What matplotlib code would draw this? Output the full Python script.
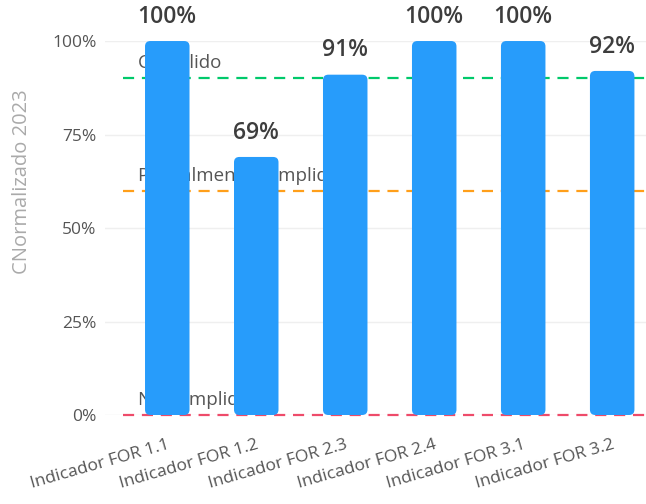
import matplotlib.pyplot as plt
from matplotlib.patches import FancyBboxPatch
from matplotlib.ticker import FuncFormatter

plt.rcParams['font.family'] = ['Open Sans', 'DejaVu Sans']

# data
indicadores = ['Indicador FOR 1.1', 'Indicador FOR 1.2', 'Indicador FOR 2.3',
               'Indicador FOR 2.4', 'Indicador FOR 3.1', 'Indicador FOR 3.2']
valores = [100, 69, 91, 100, 100, 92]
umbrales = [90, 60, 0]
umbral_nombres = ['Cumplido', 'Parcialmente cumplido', 'No cumplido']
umbral_colores = ['#00C96B', '#FF9F1A', '#EE4B6A']

fig = plt.figure(figsize=(6.46, 5.04), dpi=100)
ax = fig.add_axes([0.1625, 0.1766, 0.8375, 0.742])

x = list(range(len(indicadores)))
bars = ax.bar(x, valores, width=0.5, color='#279CFB', zorder=3)

# swap plain rectangles for rounded ones
aspect = (1 / 3.74) / (1 / 89)
for r in bars:
    rounded = FancyBboxPatch((r.get_x(), r.get_y()), r.get_width(), r.get_height(),
                             boxstyle='round,pad=0,rounding_size=0.06',
                             mutation_aspect=aspect, fc='#279CFB', ec='none', zorder=3)
    ax.add_patch(rounded)
    r.set_visible(False)

for xi, v in zip(x, valores):
    ax.text(xi, v + 3.3, f'{v}%', ha='center', va='bottom', fontsize=16.5,
            fontweight='semibold', color='#3d3d3d', clip_on=False, zorder=4)

# threshold lines with their names (text sits behind the bars)
for y, name, col in zip(umbrales, umbral_nombres, umbral_colores):
    ax.plot([-0.5, 5.5], [y, y], color=col, lw=1.6, ls=(0, (5, 3.5)), zorder=2,
            clip_on=False)
    ax.text(-0.33, y + 1.6, name, ha='left', va='bottom', fontsize=13.5,
            color='#555555', zorder=1)

ax.set_xlim(-0.7, 5.38)
ax.set_ylim(0, 100)
ax.set_yticks([0, 25, 50, 75, 100])
ax.yaxis.set_major_formatter(FuncFormatter(lambda v, p: f'{int(v)}%'))
ax.grid(axis='y', color='#efefef', lw=1, zorder=0)
ax.set_xticks(x)
ax.set_xticklabels(indicadores, rotation=16, ha='right', rotation_mode='anchor')
ax.tick_params(axis='both', length=0, labelsize=12.5, labelcolor='#555555')
ax.tick_params(axis='y', pad=6)
ax.tick_params(axis='x', pad=16)
for s in ax.spines.values():
    s.set_visible(False)

ax.set_ylabel('CNormalizado 2023', fontsize=14.5, color='#aaaaaa')
ax.yaxis.set_label_coords(-0.135, 0.623)

fig.savefig('out.png', dpi=100)
